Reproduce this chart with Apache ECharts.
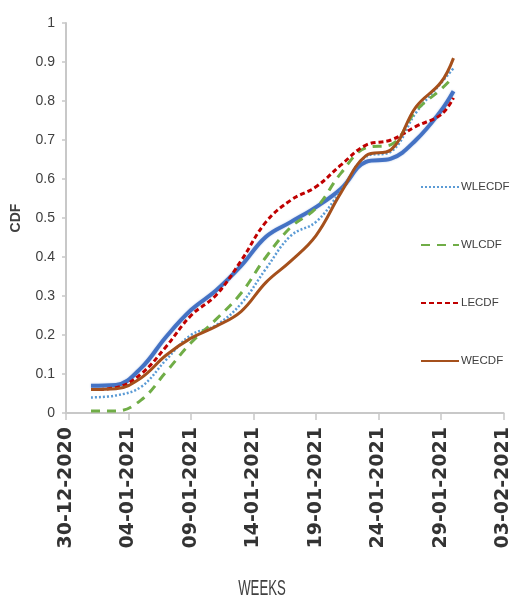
<!DOCTYPE html>
<html>
<head>
<meta charset="utf-8">
<script src="https://cdn.jsdelivr.net/npm/echarts@6/dist/echarts.min.js"></script>
<style>
  html, body { margin: 0; padding: 0; background: #ffffff; }
  #chart { width: 513px; height: 601px; }
</style>
</head>
<body>
<div id="chart"></div>
<script>
// Observation dates (one reading every second day through January 2021)
const dates = ['2021-01-01', '2021-01-03', '2021-01-05', '2021-01-07', '2021-01-09',
  '2021-01-11', '2021-01-13', '2021-01-15', '2021-01-17', '2021-01-19',
  '2021-01-21', '2021-01-23', '2021-01-25', '2021-01-27', '2021-01-29', '2021-01-30'];

// Cumulative distribution values for each estimator
const ecdf   = [0.070, 0.072, 0.115, 0.195, 0.264, 0.314, 0.377, 0.452, 0.490, 0.528, 0.575, 0.644, 0.652, 0.700, 0.775, 0.825];
const wlecdf = [0.040, 0.045, 0.067, 0.136, 0.200, 0.225, 0.280, 0.370, 0.455, 0.490, 0.570, 0.657, 0.670, 0.770, 0.846, 0.884];
const wlcdf  = [0.005, 0.005, 0.033, 0.105, 0.180, 0.240, 0.307, 0.400, 0.477, 0.525, 0.615, 0.680, 0.688, 0.775, 0.830, 0.862];
const lecdf  = [0.060, 0.065, 0.100, 0.170, 0.250, 0.302, 0.390, 0.490, 0.546, 0.580, 0.636, 0.687, 0.700, 0.735, 0.765, 0.808];
const wecdf  = [0.060, 0.062, 0.090, 0.148, 0.192, 0.222, 0.260, 0.335, 0.390, 0.455, 0.565, 0.660, 0.675, 0.785, 0.848, 0.910];

// Axis range: days counted from the first tick date, one tick every five days
const startDate = '2020-12-30';
const axisDays = 35;
const tickStep = 5;

const DAY = 86400000;
const t0 = Date.parse(startDate + 'T00:00:00Z');
const dayIndex = d => Math.round((Date.parse(d + 'T00:00:00Z') - t0) / DAY);
const pad2 = n => String(n).padStart(2, '0');
const dateLabel = v => {
  const d = new Date(t0 + v * DAY);
  return pad2(d.getUTCDate()) + '-' + pad2(d.getUTCMonth() + 1) + '-' + d.getUTCFullYear();
};
const pairs = vals => dates.map((d, i) => [dayIndex(d), vals[i]]);

const sans = '"Liberation Sans", Arial, sans-serif';

function lineSeries(name, vals, color, width, type, z, glow) {
  const ls = { color: color, width: width, type: type, cap: 'butt' };
  if (glow) { ls.shadowColor = 'rgba(68,114,196,0.4)'; ls.shadowBlur = 2; }
  return {
    name: name,
    type: 'line',
    data: pairs(vals),
    smooth: 0.4,
    symbol: 'none',
    z: z,
    lineStyle: ls,
    itemStyle: { color: color }
  };
}

const chart = echarts.init(document.getElementById('chart'), null, { renderer: 'canvas' });
chart.setOption({
  animation: false,
  backgroundColor: '#ffffff',
  grid: { left: 66, right: 6, top: 23, bottom: 188, containLabel: false },
  legend: {
    data: ['WLECDF', 'WLCDF', 'LECDF', 'WECDF'],
    orient: 'vertical',
    left: 415,
    top: 176,
    itemWidth: 38,
    itemHeight: 14,
    itemGap: 46,
    itemStyle: { opacity: 0 },
    textStyle: { fontFamily: sans, fontSize: 11.5, color: '#404040', padding: [0, 0, 0, -3] }
  },
  xAxis: {
    type: 'value',
    min: 0,
    max: axisDays,
    interval: tickStep,
    splitLine: { show: false },
    axisLine: { show: true, onZero: false, lineStyle: { color: '#c8c8c8', width: 2 } },
    axisTick: { show: true, length: 7, lineStyle: { color: '#c8c8c8', width: 1.5 } },
    axisLabel: {
      rotate: 90,
      margin: 14,
      formatter: dateLabel,
      fontFamily: '"DejaVu Sans", sans-serif',
      fontWeight: 'bold',
      fontSize: 19,
      color: '#333333'
    }
  },
  yAxis: {
    type: 'value',
    min: 0,
    max: 1,
    interval: 0.1,
    name: 'CDF',
    nameLocation: 'middle',
    nameRotate: 90,
    nameGap: 43,
    nameTextStyle: { fontFamily: sans, fontWeight: 'bold', fontSize: 14, color: '#404040' },
    splitLine: { show: false },
    axisLine: { show: true, lineStyle: { color: '#c8c8c8', width: 2 } },
    axisTick: { show: true, length: 4, lineStyle: { color: '#c8c8c8', width: 1.5 } },
    axisLabel: {
      margin: 11,
      fontFamily: sans,
      fontSize: 14,
      color: '#404040'
    }
  },
  graphic: [{
    type: 'text',
    x: 262,
    y: 589,
    scaleX: 0.6,
    style: {
      text: 'WEEKS',
      font: '22px ' + sans,
      fill: '#404040',
      align: 'center',
      verticalAlign: 'middle'
    }
  }],
  series: [
    lineSeries('ECDF', ecdf, '#4472c4', 4, 'solid', 1, true),
    lineSeries('WLECDF', wlecdf, '#5b9bd5', 2.5, [2, 2], 2),
    lineSeries('WLCDF', wlcdf, '#70ad47', 3, [9, 7], 3),
    lineSeries('LECDF', lecdf, '#c00000', 3, [5, 3], 4),
    lineSeries('WECDF', wecdf, '#a5501c', 3, 'solid', 5)
  ]
});
</script>
</body>
</html>
